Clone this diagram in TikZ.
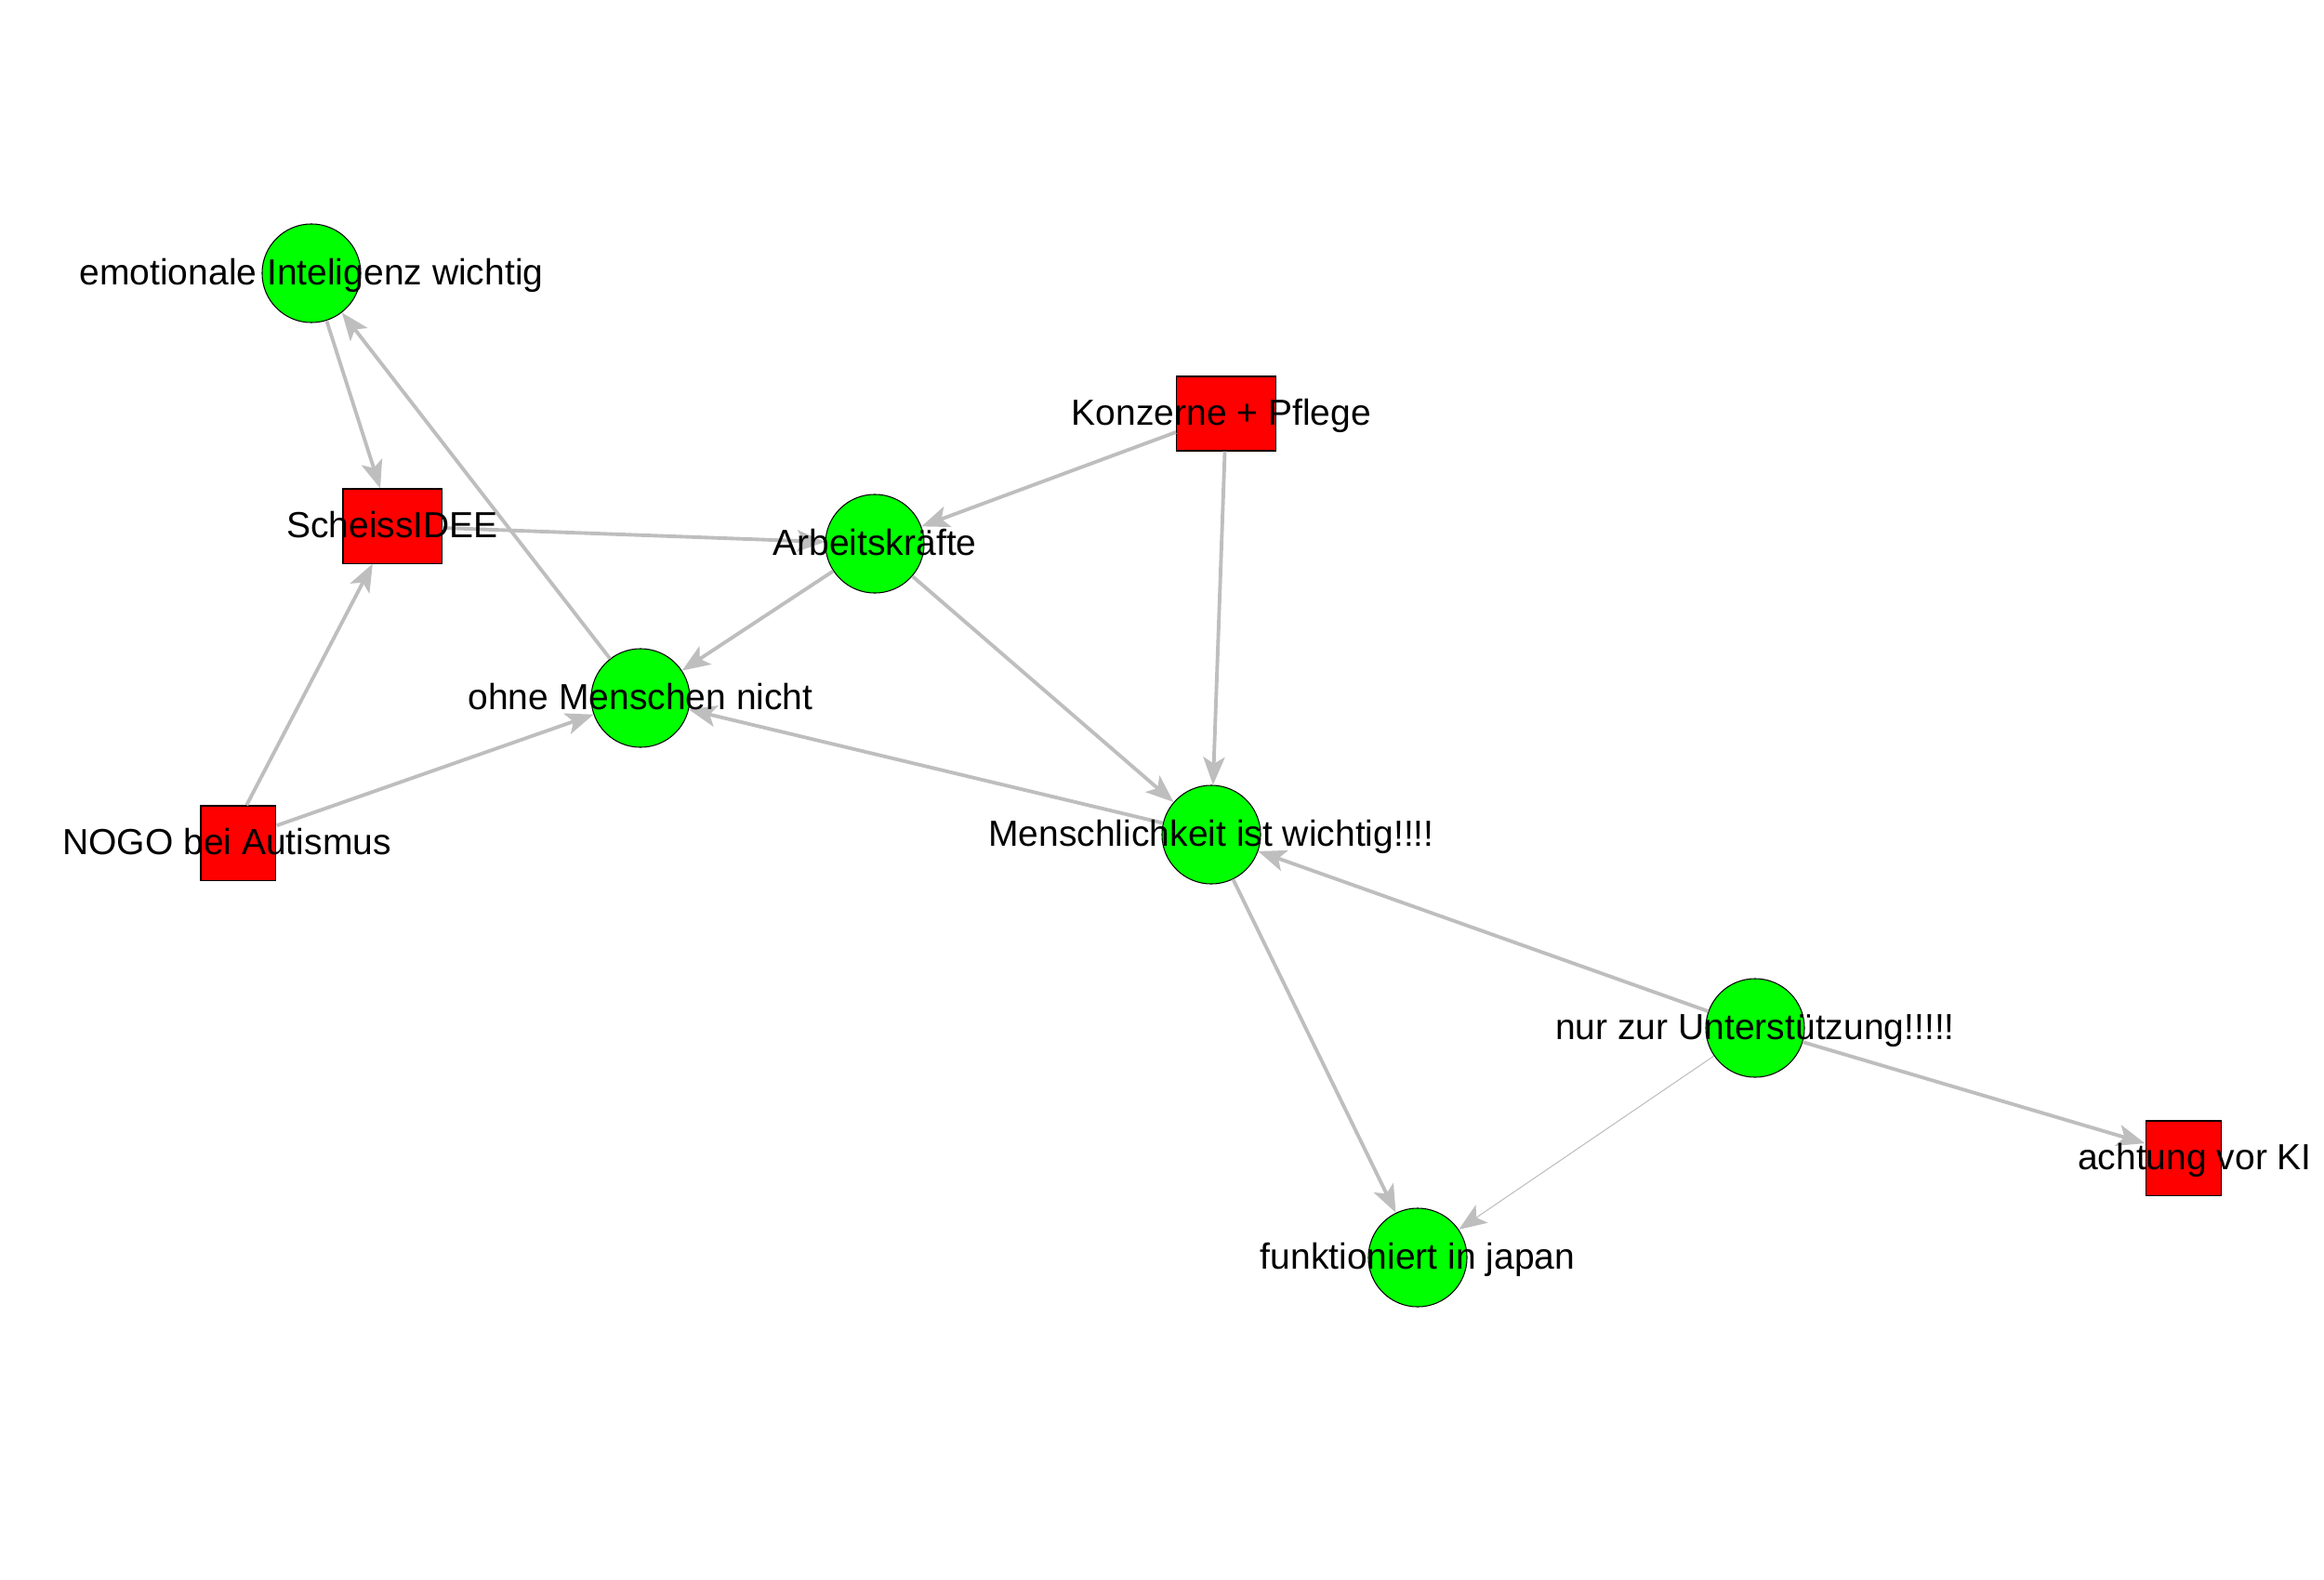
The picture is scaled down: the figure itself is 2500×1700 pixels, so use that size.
\documentclass[tikz,border=0pt]{standalone}
\usepackage{fontspec}
\setmainfont{Liberation Sans}
\usetikzlibrary{arrows.meta}
\definecolor{edgegray}{RGB}{190,190,190}
\definecolor{vgreenfill}{RGB}{0,255,0}
\definecolor{vredfill}{RGB}{255,0,0}
\begin{document}
\begin{tikzpicture}[x=0.01cm,y=-0.01cm,
  vgreen/.style={circle, draw=black, line width=0.3pt, fill=vgreenfill,
    minimum size=1.06cm, inner sep=0pt},
  vred/.style={rectangle, draw=black, line width=0.3pt, fill=vredfill,
    inner sep=0pt, minimum height=0.8cm},
  % invisible anchor area used to aim and clip the edges of a square vertex
  vhit/.style={rectangle, inner sep=0pt, minimum width=1.06cm, minimum height=0.8cm},
  lbl/.style={font=\fontsize{11.1}{13}\selectfont, inner sep=0pt,
    text height=7.95pt, text depth=2.33pt},
  link/.style={draw=edgegray, line width=1.1pt,
    -{Stealth[length=8.5pt,width=6.6pt,inset=2pt]}},
  thinlink/.style={link, line width=0.3pt}
]
\useasboundingbox (0,0) rectangle (2500,1700);

% vertices
\node[vgreen] (emo) at (335,294) {};
\node[vred, minimum width=1.06cm] (sch) at (422,566) {};
\node[vgreen] (arb) at (941,585) {};
\node[vred, minimum width=1.07cm] (kon) at (1319,445) {};
\node[vgreen] (ohne) at (689,751) {};
\node[vred, minimum width=0.8cm] (nogoBox) at (256,907) {};
\node[vhit] (nogo) at (244,907) {};
\node[vgreen] (mensch) at (1303,898) {};
\node[vgreen] (nur) at (1888,1106) {};
\node[vred, minimum width=0.81cm] (achBox) at (2349,1246) {};
\node[vhit] (ach) at (2361,1246) {};
\node[vgreen] (jap) at (1525,1353) {};

% edges
\draw[link] (emo) -- (sch);
\draw[link] (ohne) -- (emo);
\draw[link] (sch) -- (arb);
\draw[link] (kon) -- (arb);
\draw[link] (kon) -- (mensch);
\draw[link] (arb) -- (ohne);
\draw[link] (arb) -- (mensch);
\draw[link] (mensch) -- (ohne);
\draw[link] (nogo) -- (sch);
\draw[link] (nogo) -- (ohne);
\draw[link] (nur) -- (mensch);
\draw[link] (nur) -- (ach);
\draw[thinlink] (nur) -- (jap);
\draw[link] (mensch) -- (jap);

% labels
\node[lbl] (emoL) at (335,297) {emotionale Inteligenz wichtig};
\node[lbl] (schL) at (422,569) {ScheissIDEE};
\node[lbl] (arbL) at (941,588) {Arbeitskräfte};
\node[lbl] (konL) at (1314,448) {Konzerne + Pflege};
\node[lbl] (ohneL) at (689,754) {ohne Menschen nicht};
\node[lbl] (nogoL) at (244,910) {NOGO bei Autismus};
\node[lbl] (menschL) at (1303,901) {Menschlichkeit ist wichtig!!!!};
\node[lbl] (nurL) at (1888,1109) {nur zur Unterstützung!!!!!};
\node[lbl] (achL) at (2361,1249) {achtung vor KI};
\node[lbl] (japL) at (1525,1356) {funktioniert in japan};
\end{tikzpicture}
\end{document}
